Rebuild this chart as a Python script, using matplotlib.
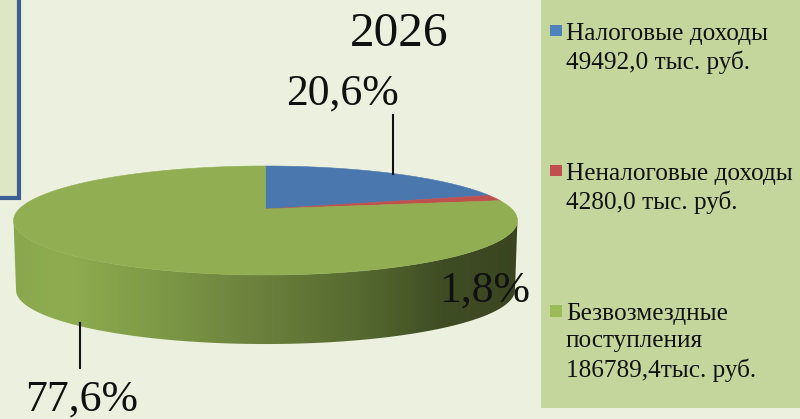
import numpy as np
import matplotlib
matplotlib.use("Agg")
import matplotlib.pyplot as plt
from matplotlib.colors import LinearSegmentedColormap
from matplotlib.patches import Polygon, Rectangle

plt.rcParams['font.family'] = ['Liberation Serif', 'DejaVu Serif']

title = "2026"
categories = ["Налоговые доходы\n49492,0 тыс. руб.",
              "Неналоговые доходы\n4280,0 тыс. руб.",
              "Безвозмездные\nпоступления\n186789,4тыс. руб."]
values = [49492.0, 4280.0, 186789.4]
pct_labels = ["20,6%", "1,8%", "77,6%"]
top_colors = ["#4a78ae", "#bf504e", "#91ae52"]
legend_colors = ["#4f81bd", "#c0504d", "#9bbb59"]

fig = plt.figure(figsize=(8.0, 4.19), dpi=100, facecolor="#ecf0df")
ax = fig.add_axes([0, 0, 1, 1])
ax.set_axis_off()

# projected disc: apex position, half sizes and perspective factor
CX, CY, A, H, K = 265.5, 209.0, 246.3, 52.07, 0.211

def project(theta, scale=1.0, cy=CY):
    u, v = np.sin(theta), np.cos(theta)
    d = 1 + K * v
    return CX + scale * A * u / d, cy - scale * H * v / d

# side wall with a horizontal gradient, between the two silhouette points
t0 = np.arccos(-K)
t = np.linspace(t0, 2 * np.pi - t0, 200)
x1, y1 = project(t)
x2, y2 = project(t[::-1], scale=0.99, cy=278.7)
side = Polygon(np.column_stack([np.r_[x1, x2], np.r_[y1, y2]]),
               closed=True, facecolor="none", edgecolor="none")
ax.add_patch(side)
cmap = LinearSegmentedColormap.from_list("side", [
    (0.00, "#8aa74e"), (0.10, "#8fad50"), (0.28, "#7e9a47"), (0.50, "#6a7f3c"),
    (0.70, "#55682f"), (0.85, "#3f4d24"), (1.00, "#3a4520")])
im = ax.imshow(np.linspace(0, 1, 256)[None, :], cmap=cmap, aspect="auto",
               extent=[13, 518, 350, 200], zorder=1)
im.set_clip_path(side)

# top surface from the data
edges = np.r_[0, np.cumsum(values)] / np.sum(values) * 2 * np.pi
for a0, a1, col in zip(edges[:-1], edges[1:], top_colors):
    th = np.linspace(a0, a1, 240)
    x, y = project(th)
    ax.add_patch(Polygon(np.column_stack([np.r_[CX, x], np.r_[CY, y]]), closed=True,
                         facecolor=col, edgecolor=col, linewidth=0.4, zorder=2))

# panels
ax.add_patch(Rectangle((-5, -5), 23.5, 202.5, facecolor="#dde6c5",
                       edgecolor="#3b5f93", linewidth=3.0, zorder=3))
ax.add_patch(Rectangle((541, -5), 270, 413, facecolor="#c4d69c",
                       edgecolor="none", zorder=0.5))

# leaders
ax.plot([393, 393], [115, 174], color="#111111", lw=1.5, zorder=4)
ax.plot([79.5, 79.5], [323, 368], color="#111111", lw=1.5, zorder=4)

# texts
ax.text(399, 34, title, fontsize=35.5, ha="center", va="center", color="#111111", zorder=5)
pct_pos = [(343, 94), (485, 291), (82, 400)]
for lab, (px, py) in zip(pct_labels, pct_pos):
    ax.text(px, py, lab, fontsize=31.5, ha="center", va="center", color="#111111", zorder=5)

leg_y = [25, 165, 305]
for cat, col, ly in zip(categories, legend_colors, leg_y):
    ax.add_patch(Rectangle((550, ly), 11.5, 11.5, facecolor=col, edgecolor="none", zorder=5))
    ax.text(566, ly - 2, cat, fontsize=18.2, ha="left", va="top", color="#111111",
            linespacing=1.32, zorder=5)

ax.set_xlim(0, 800)
ax.set_ylim(419, 0)
fig.savefig("out.png", dpi=100, facecolor=fig.get_facecolor())
